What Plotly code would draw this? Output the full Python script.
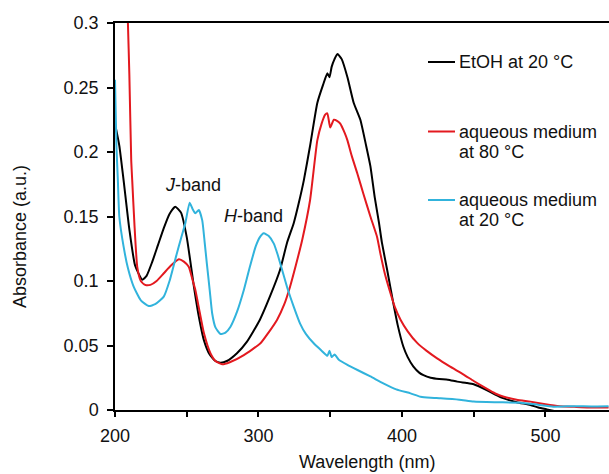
import plotly.graph_objects as go

# ---------------- data ----------------
etoh_nm = [200, 203, 206, 210, 214, 219, 222, 226, 230, 234, 238, 242, 246, 250, 255, 258,
           262, 266, 270, 273.5, 278, 285, 292, 301, 308, 315, 320, 324.6, 328, 331.6, 336,
           341, 345, 348, 349.5, 351, 353, 355, 358, 362, 366.4, 371, 375, 378, 381, 384,
           386, 389.7, 394, 397, 401, 404, 408, 412, 415, 420, 426, 432, 438.5, 445, 450,
           459, 465, 471, 480, 489.5, 495, 501, 507]
etoh_abs = [0.222, 0.205, 0.178, 0.140, 0.112, 0.101, 0.104, 0.115, 0.128, 0.141, 0.152,
            0.1576, 0.153, 0.134, 0.0956, 0.075, 0.054, 0.043, 0.038, 0.0367, 0.038, 0.044,
            0.053, 0.070, 0.088, 0.1085, 0.130, 0.145, 0.160, 0.178, 0.205, 0.238, 0.252,
            0.261, 0.258, 0.266, 0.272, 0.276, 0.272, 0.258, 0.238, 0.225, 0.205, 0.189,
            0.165, 0.145, 0.130, 0.1085, 0.0827, 0.066, 0.049, 0.041, 0.0336, 0.029, 0.027,
            0.025, 0.024, 0.0235, 0.022, 0.021, 0.020, 0.0155, 0.012, 0.009, 0.006, 0.0039,
            0.002, 0.0005, -0.001]

aq80_nm = [206, 209, 210, 211.3, 212, 213.5, 215.5, 218, 221, 224.7, 229, 234, 239, 244.5,
           248, 251.4, 254, 256, 259, 262, 266.5, 270, 274.7, 280, 289.8, 301.4, 307, 313,
           318, 322, 326, 330.5, 336, 341, 344, 346.5, 348, 350, 352.5, 355, 357, 360, 362,
           365, 369, 373, 378, 382.7, 385, 388, 392, 395, 399, 404, 410.6, 417, 424.5, 433,
           443, 450, 459, 465, 471, 480, 489.5, 500, 510, 520, 530, 544]
aq80_abs = [0.40, 0.300, 0.260, 0.194, 0.178, 0.145, 0.111, 0.100, 0.097, 0.097, 0.100,
            0.106, 0.112, 0.1168, 0.115, 0.111, 0.101, 0.093, 0.076, 0.0594, 0.044, 0.038,
            0.0354, 0.037, 0.0426, 0.0517, 0.060, 0.070, 0.082, 0.0956, 0.112, 0.132, 0.163,
            0.209, 0.222, 0.229, 0.230, 0.219, 0.225, 0.224, 0.222, 0.215, 0.209, 0.197,
            0.183, 0.168, 0.150, 0.134, 0.121, 0.106, 0.0905, 0.080, 0.070, 0.061, 0.052,
            0.046, 0.040, 0.0340, 0.0275, 0.0225, 0.0165, 0.0128, 0.0103, 0.008, 0.0065,
            0.0045, 0.003, 0.0025, 0.002, 0.002]

aq20_nm = [200, 201, 202, 203, 206, 209, 213, 218, 223.5, 228, 234, 238, 243, 246, 249, 252,
           254, 256, 258.4, 260.8, 262.5, 264, 266, 267.7, 270, 273.5, 277, 280.5, 285,
           289.8, 294, 298, 301, 303.7, 307, 310.7, 313.5, 316.5, 320, 324.6, 329, 333,
           338.5, 344, 348, 349.5, 351, 353, 356, 362, 369, 378, 387, 396, 406, 413, 420,
           427, 440, 450, 465, 482.6, 495, 505.5, 520, 532, 544]
aq20_abs = [0.256, 0.205, 0.178, 0.150, 0.1266, 0.110, 0.0956, 0.085, 0.0806, 0.082, 0.0879,
            0.100, 0.121, 0.133, 0.1447, 0.1607, 0.156, 0.1525, 0.155, 0.147, 0.130, 0.1137,
            0.093, 0.075, 0.064, 0.0589, 0.060, 0.0646, 0.076, 0.093, 0.111, 0.1266, 0.134,
            0.137, 0.135, 0.129, 0.120, 0.1085, 0.095, 0.080, 0.067, 0.059, 0.0517, 0.046,
            0.042, 0.046, 0.041, 0.043, 0.039, 0.035, 0.031, 0.026, 0.0207, 0.016, 0.0129,
            0.0103, 0.0095, 0.0091, 0.008, 0.0065, 0.006, 0.0057, 0.004, 0.0026, 0.003,
            0.0028, 0.003]

series_names = ["EtOH at 20 °C", "aqueous medium at 80 °C", "aqueous medium at 20 °C"]
series_colors = ["#000000", "#e3191f", "#31b3dc"]

x_range = [200, 544.3]
y_range = [0, 0.3]
x_ticks = [200, 300, 400, 500]
y_ticks = [0, 0.05, 0.1, 0.15, 0.2, 0.25, 0.3]

# ---------------- figure ----------------
W, H = 609, 474
ML, MR, MT, MB = 115, 0, 23, 64
FONT = "Liberation Sans, Arial, sans-serif"
FS = 18


def px(x):
    return (x - ML) / (W - ML - MR)


def py(y):
    return (H - MB - y) / (H - MT - MB)


fig = go.Figure()
for nm, ab, name, col in zip([etoh_nm, aq80_nm, aq20_nm], [etoh_abs, aq80_abs, aq20_abs],
                             series_names, series_colors):
    fig.add_trace(go.Scatter(x=nm, y=ab, mode="lines", name=name,
                             line=dict(color=col, width=2, shape="spline", smoothing=0.5),
                             showlegend=False, cliponaxis=True))

fig.update_layout(
    width=W, height=H,
    margin=dict(l=ML, r=MR, t=MT, b=MB, autoexpand=False),
    paper_bgcolor="white", plot_bgcolor="white",
    font=dict(family=FONT, size=FS, color="#111111"),
)
fig.update_xaxes(range=x_range, tickvals=x_ticks, ticks="outside", ticklen=5, tickwidth=1.5,
                 tickcolor="black", showline=True, linecolor="black", linewidth=1.5,
                 mirror=True, showgrid=False, zeroline=False, ticklabelstandoff=4,
                 automargin=False,
                 minor=dict(dtick=50, ticks="outside", ticklen=5, tickwidth=1.5,
                            tickcolor="black", showgrid=False))
fig.update_yaxes(range=y_range, tickvals=y_ticks, ticktext=[str(v) for v in y_ticks],
                 ticks="outside", ticklen=6, tickwidth=1.5, tickcolor="black",
                 showline=True, linecolor="black", linewidth=1.5, showgrid=False,
                 zeroline=False, ticklabelstandoff=5, automargin=False)

annotations = []
# axis titles
annotations.append(dict(text="Absorbance (a.u.)", x=px(20), y=py(237), xref="paper", yref="paper",
                        textangle=-90, showarrow=False, xanchor="center", yanchor="middle",
                        font=dict(size=FS)))
annotations.append(dict(text="Wavelength (nm)", x=px(367), y=py(462), xref="paper", yref="paper",
                        showarrow=False, xanchor="center", yanchor="middle", font=dict(size=FS)))
# band labels
annotations.append(dict(text="<i>J</i>-band", x=px(193), y=py(185), xref="paper", yref="paper",
                        showarrow=False, xanchor="center", yanchor="middle", font=dict(size=FS)))
annotations.append(dict(text="<i>H</i>-band", x=px(253), y=py(216), xref="paper", yref="paper",
                        showarrow=False, xanchor="center", yanchor="middle", font=dict(size=FS)))

# custom legend
legend_rows = [
    (62, ["EtOH at 20 °C"]),
    (131.5, ["aqueous medium", "at 80 °C"]),
    (200, ["aqueous medium", "at 20 °C"]),
]
shapes = []
for (yrow, lines), col in zip(legend_rows, series_colors):
    shapes.append(dict(type="line", xref="paper", yref="paper", x0=px(428), x1=px(455),
                       y0=py(yrow), y1=py(yrow), line=dict(color=col, width=2)))
    for i, t in enumerate(lines):
        annotations.append(dict(text=t, x=px(457), y=py(yrow + 20 * i), xref="paper", yref="paper",
                                showarrow=False, xanchor="left", yanchor="middle",
                                font=dict(size=FS)))

fig.update_layout(annotations=annotations, shapes=shapes)
fig.write_html("out.html", config={"displayModeBar": False},
               post_script="document.body.style.margin='0px';document.body.style.overflow='hidden';")
